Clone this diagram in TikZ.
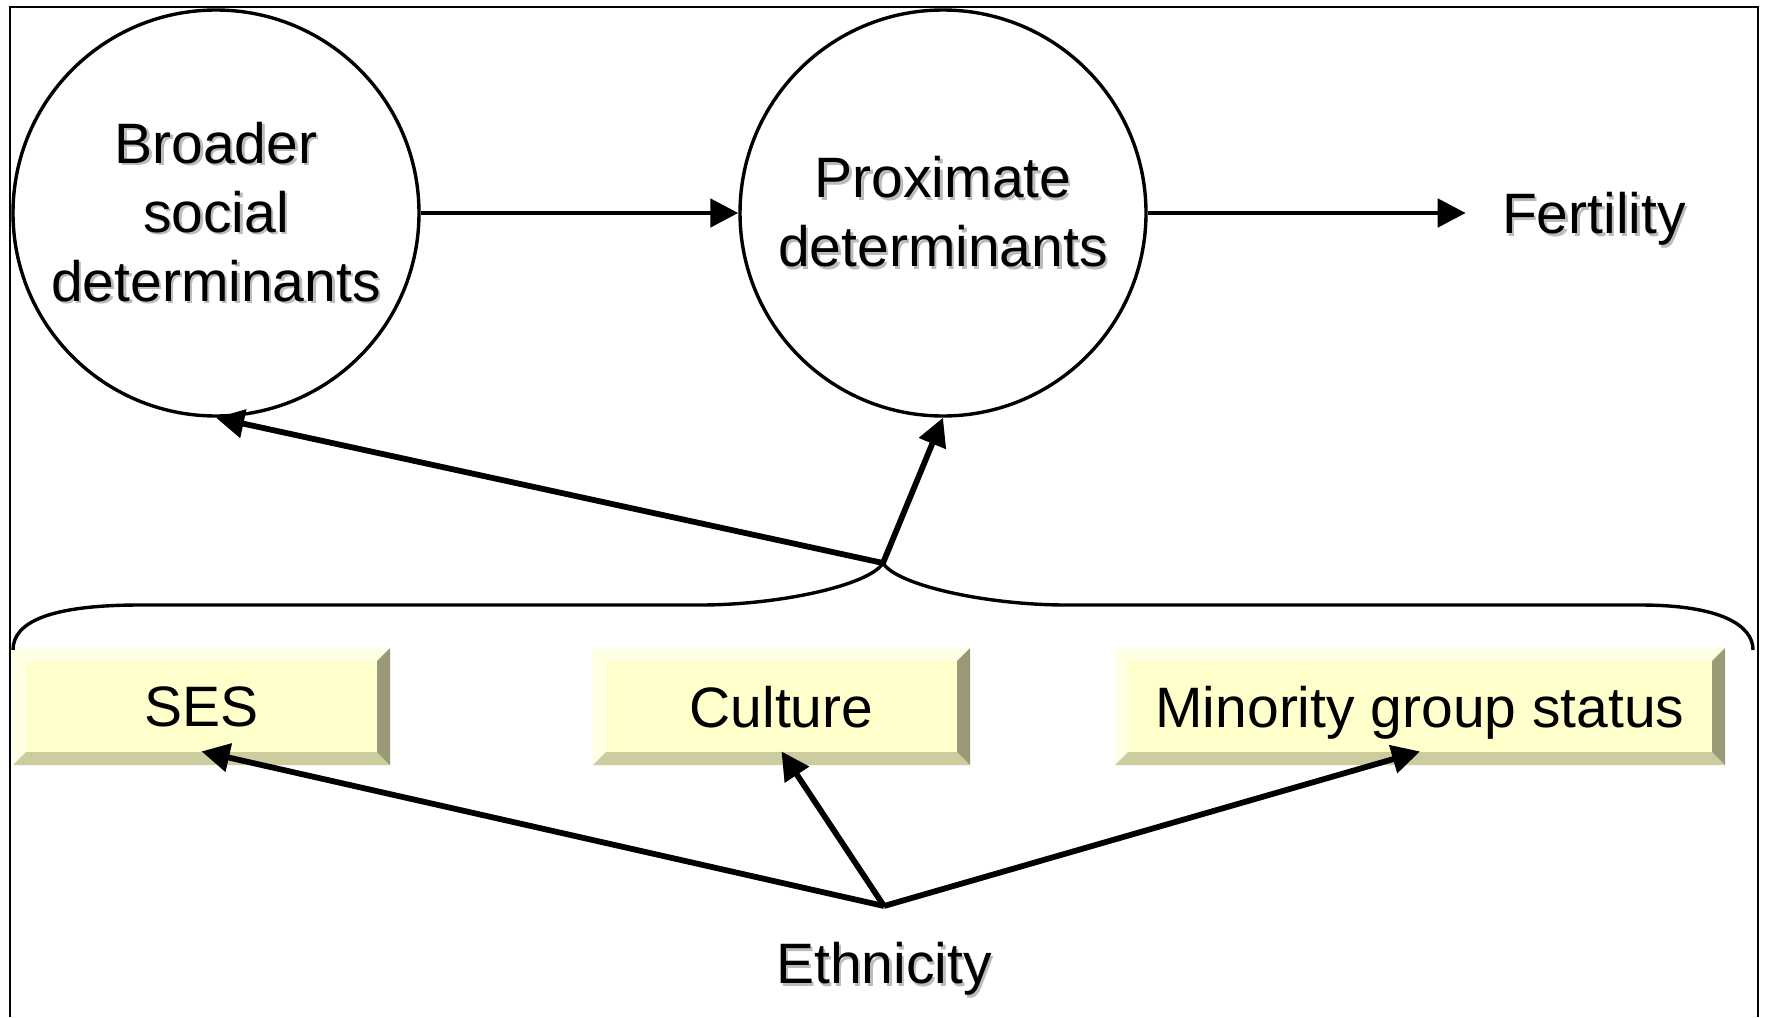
\documentclass[tikz,border=0pt]{standalone}
\usepackage{fontspec}
\setmainfont{Liberation Sans}
\usepackage{xcolor}
\definecolor{boxface}{HTML}{FFFFCC}
\definecolor{bevlight}{HTML}{FFFFE3}
\definecolor{bevlow}{HTML}{CCCC9E}
\definecolor{bevside}{HTML}{999978}
\definecolor{txtshadow}{HTML}{BBBBBB}
\usepackage{tikz}
\usetikzlibrary{arrows.meta,positioning,calc}
\newcommand{\bigtext}{\fontsize{28.5}{34.5}\selectfont}
\newcommand{\shtxt}[1]{\makebox[0pt][l]{\hspace{1.2pt}\raisebox{-1.2pt}{\textcolor{txtshadow}{#1}}}#1}
\newcommand{\bev}{6.5pt}
\tikzset{
  factor/.style   = {circle, draw, line width=1.7pt, minimum size=203pt,
                     inner sep=0pt, align=center, font=\bigtext},
  plain/.style    = {inner sep=0pt, text depth=0pt, font=\bigtext},
  bevelbox/.style = {rectangle, fill=boxface, inner sep=0pt, text depth=0pt,
                     minimum height=58.5pt, font=\bigtext,
                     path picture={
                       \coordinate (pbl) at (path picture bounding box.south west);
                       \coordinate (pbr) at (path picture bounding box.south east);
                       \coordinate (ptl) at (path picture bounding box.north west);
                       \coordinate (ptr) at (path picture bounding box.north east);
                       \fill[bevlight] (ptl) -- (ptr) -- ++(-\bev,-\bev) -- ($(ptl)+(\bev,-\bev)$) -- cycle;
                       \fill[bevlight] (ptl) -- (pbl) -- ++(\bev,\bev) -- ($(ptl)+(\bev,-\bev)$) -- cycle;
                       \fill[bevlow] (pbl) -- (pbr) -- ++(-\bev,\bev) -- ($(pbl)+(\bev,\bev)$) -- cycle;
                       \fill[bevside] (pbr) -- (ptr) -- ++(-\bev,-\bev) -- ($(pbr)+(-\bev,\bev)$) -- cycle;
                     }},
  arr/.style      = {-{Triangle[length=14pt,width=14pt]}, line width=2.9pt},
  harr/.style     = {-{Triangle[length=14pt,width=14pt]}, line width=2.4pt}
}

\begin{document}
\begin{tikzpicture}[x=0.5pt, y=-0.5pt]
  \useasboundingbox (0,0) rectangle (1765,1017);
  \draw[line width=0.9pt] (10,1017) -- (10,7) -- (1758,7) -- (1758,1017);

  % determinants and outcome
  \node[factor] (bsd) at (216,213) {\shtxt{Broader}\\\shtxt{social}\\\shtxt{determinants}};
  \node[factor, right=158.8pt of bsd] (pd) {\shtxt{Proximate}\\\shtxt{determinants}};
  \node[plain, inner xsep=18pt, right=159pt of pd] (fert) {\shtxt{Fertility}};
  \draw[harr] (bsd) -- (pd);
  \draw[harr] (pd) -- (fert);

  % ethnicity dimensions
  \node[bevelbox, minimum width=188.5pt] (ses) at (201.5,706.5) {SES};
  \node[bevelbox, minimum width=188.5pt] (cult) at (781.5,706.5) {Culture};
  \node[bevelbox, minimum width=305pt] (minor) at (1420,706.5) {Minority group status};
  \node[plain] (eth) at (884,963) {\shtxt{Ethnicity}};
  \coordinate (ej) at (884,906);
  \coordinate (bt) at (883,563);

  \draw[line width=1.7pt] (13,650) .. controls (13,622) and (50,605) .. (140,605) -- (700,605)
    .. controls (780,605) and (870,585) .. (bt)
    .. controls (896,585) and (986,605) .. (1066,605) -- (1640,605)
    .. controls (1720,605) and (1753,625) .. (1753,650);

  \draw[arr] (bt) -- (bsd.south);
  \draw[arr] (bt) -- (pd.south);
  \foreach \b in {ses,cult,minor}
    \draw[arr] (ej) -- ([yshift=7pt]\b.south);
\end{tikzpicture}
\end{document}
